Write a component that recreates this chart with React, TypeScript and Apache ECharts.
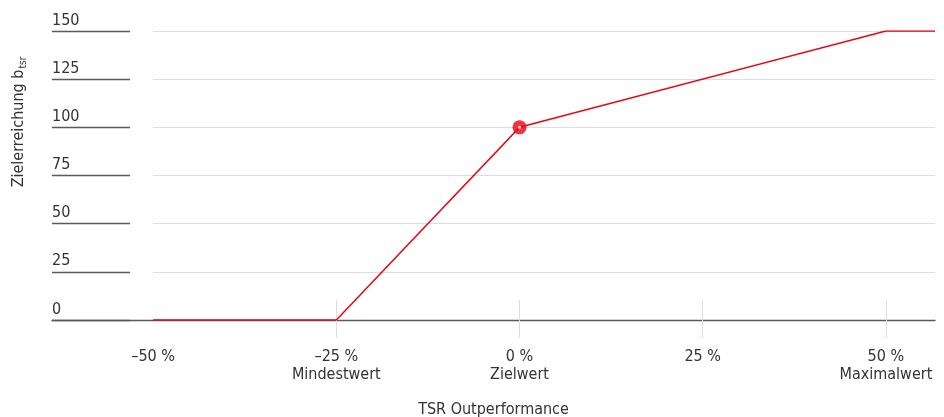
import React, { useEffect, useRef } from "react";
import * as echarts from "echarts";

const xValues = [-50, -25, 0, 50, 56.7];
const yValues = [0, 0, 100, 150, 150];
const targetPoint = [0, 100];
const xTickValues = [-50, -25, 0, 25, 50];
const xTickMarks = [-25, 0, 25, 50];
const xTickLabels: Record<string, string> = {
  "-50": "–50 %",
  "-25": "–25 %\nMindestwert",
  "0": "0 %\nZielwert",
  "25": "25 %",
  "50": "50 %\nMaximalwert",
};
const yTicks = [0, 25, 50, 75, 100, 125, 150];
const xTitle = "TSR Outperformance";
const yTitleMain = "Zielerreichung b";
const yTitleSub = "tsr";

const FONT = "'DejaVu Sans Condensed', 'Liberation Sans Narrow', 'DejaVu Sans', sans-serif";
const TEXT = "#333333";
const RED = "#e30613";
const XMIN = -63.8;
const XMAX = 56.7;

export default function App() {
  const ref = useRef<HTMLDivElement>(null);
  useEffect(() => {
    if (!ref.current) return;
    const chart = echarts.init(ref.current, undefined, { renderer: "svg" });
    const yMin = yTicks[0];
    const yMax = yTicks[yTicks.length - 1];
    const yInt = yTicks[1] - yTicks[0];
    chart.setOption({
      animation: false,
      textStyle: { fontFamily: FONT },
      grid: [
        { left: 52, right: 9, top: 31, bottom: 97, outerBoundsMode: "none", containLabel: false },
        { left: 52, width: 78, top: 31, bottom: 97, outerBoundsMode: "none", containLabel: false },
        { left: 153, right: 9, top: 31, bottom: 97, outerBoundsMode: "none", containLabel: false },
      ],
      xAxis: [
        {
          type: "value",
          gridIndex: 0,
          min: XMIN,
          max: XMAX,
          name: xTitle,
          nameLocation: "middle",
          nameGap: 79,
          nameTextStyle: { color: TEXT, fontSize: 16, fontFamily: FONT, verticalAlign: "top", lineHeight: 18 },
          axisLine: { show: true, lineStyle: { color: "#5a5a5a", width: 1.3 } },
          axisTick: {
            show: true,
            customValues: xTickMarks,
            length: 18,
            lineStyle: { color: "#dddddd", width: 1 },
          },
          axisLabel: {
            customValues: xTickValues,
            margin: 26,
            color: TEXT,
            fontSize: 16,
            lineHeight: 18,
            fontFamily: FONT,
            formatter: (v: number) => xTickLabels[String(Math.round(v))] ?? "",
          },
          splitLine: { show: false },
        },
        {
          type: "value",
          gridIndex: 0,
          min: XMIN,
          max: XMAX,
          position: "bottom",
          axisLine: { show: false },
          axisTick: {
            show: true,
            inside: true,
            customValues: xTickMarks,
            length: 20,
            lineStyle: { color: "#dddddd", width: 1 },
          },
          axisLabel: { show: false },
          splitLine: { show: false },
        },
        { type: "value", gridIndex: 1, show: false, min: 0, max: 1 },
        { type: "value", gridIndex: 2, show: false, min: 0, max: 1 },
      ],
      yAxis: [
        {
          type: "value",
          gridIndex: 0,
          min: yMin,
          max: yMax,
          interval: yInt,
          show: false,
          splitLine: { show: false },
        },
        {
          type: "value",
          gridIndex: 1,
          min: yMin,
          max: yMax,
          interval: yInt,
          axisLine: { show: false },
          axisTick: { show: false },
          axisLabel: {
            show: true,
            align: "left",
            verticalAlign: "bottom",
            margin: 0,
            color: TEXT,
            fontSize: 16,
            lineHeight: 16,
            padding: [0, 0, 4, 0],
            fontFamily: FONT,
          },
          splitLine: { show: true, lineStyle: { color: "#5a5a5a", width: 1.3 } },
        },
        {
          type: "value",
          gridIndex: 2,
          min: yMin,
          max: yMax,
          interval: yInt,
          axisLine: { show: false },
          axisTick: { show: false },
          axisLabel: { show: false },
          splitLine: { show: true, lineStyle: { color: "#dddddd", width: 1 } },
        },
      ],
      graphic: [
        {
          type: "text",
          x: 15,
          y: 122,
          rotation: Math.PI / 2,
          style: {
            text: `{a|${yTitleMain}}{s|${yTitleSub}}`,
            align: "center",
            verticalAlign: "middle",
            rich: {
              a: { fontSize: 16, fontFamily: FONT, fill: TEXT, lineHeight: 20, verticalAlign: "bottom" },
              s: { fontSize: 10, fontFamily: FONT, fill: TEXT, lineHeight: 20, verticalAlign: "bottom", padding: [0, 0, -2, 1] },
            },
          },
        },
      ],
      series: [
        {
          type: "line",
          xAxisIndex: 0,
          yAxisIndex: 0,
          data: xValues.map((x, i) => [x, yValues[i]]),
          showSymbol: false,
          lineStyle: { color: RED, width: 1.5 },
          z: 3,
        },
        {
          type: "scatter",
          xAxisIndex: 0,
          yAxisIndex: 0,
          data: [targetPoint],
          symbol: "circle",
          symbolSize: 14,
          itemStyle: { color: RED },
          z: 4,
        },
        {
          type: "scatter",
          xAxisIndex: 0,
          yAxisIndex: 0,
          data: [targetPoint],
          symbol: "circle",
          symbolSize: 3,
          itemStyle: { color: "#ffffff" },
          z: 5,
        },
      ],
    });
    return () => chart.dispose();
  }, []);
  return (
    <div
      ref={ref}
      style={{ position: "fixed", left: 0, top: 0, width: 944, height: 417, overflow: "visible" }}
    />
  );
}
